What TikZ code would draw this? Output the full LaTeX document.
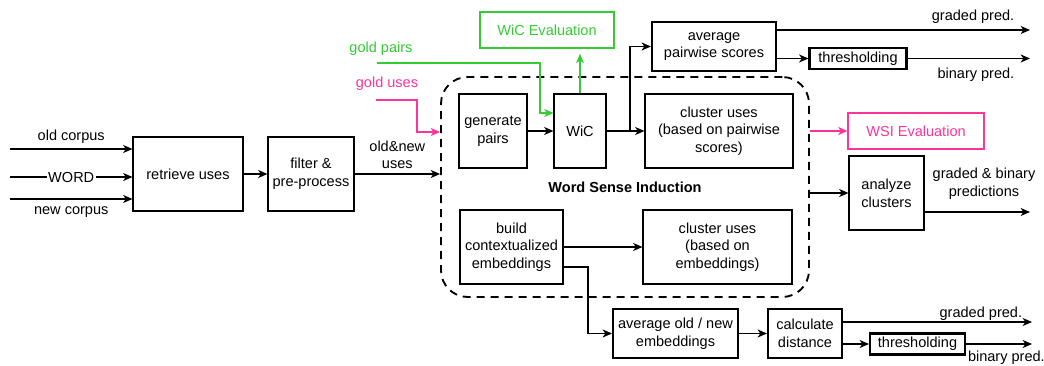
\documentclass[tikz,border=0pt]{standalone}
\usepackage{fontspec}
\setmainfont{Liberation Sans}
\usepackage{xcolor}
\usepackage{tikz}
\usetikzlibrary{arrows.meta, positioning, calc}
\definecolor{goldgreen}{HTML}{33CC33}
\definecolor{goldpink}{HTML}{FF3399}
\def\px{0.75pt}

\begin{document}
\begin{tikzpicture}[x=0.75pt, y=-0.75pt, font=\fontsize{10.9}{13.3}\selectfont,
    sz/.style 2 args={minimum width=#1*\px, minimum height=#2*\px},
    box/.style={draw, line width=0.8pt, align=center, inner sep=1pt},
    boldbox/.style={box, line width=1.6pt},
    greenbox/.style={box, draw=goldgreen, text=goldgreen},
    pinkbox/.style={box, draw=goldpink, text=goldpink},
    wsibox/.style={draw, line width=1.4pt, dash pattern=on 6pt off 4.5pt, rounded corners=20pt},
    arr/.style={-{Stealth[length=7pt, width=6pt, inset=2pt]}, line width=0.9pt},
    garr/.style={arr, goldgreen},
    parr/.style={arr, goldpink}]
    \useasboundingbox (0,0) rectangle (1044,366);

    % Word Sense Induction region
    \node[wsibox, sz={368}{220}] (wsi) at (625,187) {\textbf{Word Sense Induction}};

    % input and preprocessing
    \node[box, sz={110}{74}] (retrieve) at (188,174) {retrieve uses};
    \node[box, sz={86}{74}] (filter) at (311,174) {filter \&\\pre-process};
    \coordinate (oldin) at (10,149);
    \coordinate (wordin) at (10,177);
    \coordinate (newin) at (10,199);
    \draw[arr] (oldin) -- (oldin -| retrieve.west) node[midway, above] {old corpus};
    \draw[arr] (wordin) -- (wordin -| retrieve.west) node[midway, fill=white, inner sep=1pt] {WORD};
    \draw[arr] (newin) -- (newin -| retrieve.west) node[midway, below, yshift=-2pt] {new corpus};
    \draw[arr] (retrieve) -- (filter);
    \draw[arr] (filter) -- (filter -| wsi.west) node[midway, above, align=center] {old\&new\\uses};

    % gold data
    \node[text=goldpink] (guses) at (387,84) {gold uses};
    \node[text=goldgreen] (gpairs) at (381,49) {gold pairs};
    \coordinate (gustart) at (376,100);
    \coordinate (gubend) at (417,132);
    \coordinate (gpstart) at (377,63);
    \coordinate (gpbend) at (540,113);

    % pairwise branch
    \node[box, sz={68}{74}] (genpairs) at (493,131) {generate\\pairs};
    \node[box, sz={52}{74}] (wic) at (580,131) {WiC};
    \node[box, sz={148}{74}] (clpair) at (719,131) {cluster uses\\(based on pairwise\\scores)};
    \node[greenbox, sz={134}{36}] (wiceval) at (547,30) {WiC Evaluation};
    \node[boldbox, sz={124}{49}] (avgpair) at (714,46.5) {average\\pairwise scores};
    \node[boldbox, sz={97}{21}] (thrtop) at (858,58.5) {thresholding};
    \draw[parr] (gustart) -| (gubend) -- (gubend -| wsi.west);
    \draw[garr] (gpstart) -| (gpbend) -- (gpbend -| wic.west);
    \draw[arr] (genpairs) -- (wic);
    \draw[arr] (wic) -- (clpair);
    \coordinate (wicsplit) at (630,131);
    \draw[arr] (wicsplit) |- (avgpair.west);
    \draw[garr, shorten >=4pt] (wic.north) -- (wic.north |- wiceval.south);
    \coordinate (gradedtop) at (1030,30);
    \coordinate (binarytop) at (1030,58.5);
    \draw[arr] (avgpair.east |- gradedtop) -- (gradedtop) node[pos=1, above left, xshift=-8pt, yshift=1pt] {graded pred.};
    \draw[arr] (avgpair.east |- thrtop) -- (thrtop);
    \draw[arr] (thrtop) -- (binarytop) node[pos=1, below left, xshift=-8pt, yshift=-3pt] {binary pred.};

    % evaluation and cluster analysis
    \node[pinkbox, sz={136}{36}] (wsieval) at (916,131) {WSI Evaluation};
    \node[box, sz={75}{74}] (analyze) at (886.5,193) {analyze\\clusters};
    \node[align=center] (predlabel) at (984,184) {graded \& binary\\predictions};
    \coordinate (predright) at (1030,212);
    \draw[parr] (wsi.east |- wsieval) -- (wsieval);
    \draw[arr] (wsi.east |- analyze) -- (analyze);
    \draw[arr] (analyze.east |- predright) -- (predright);

    % embedding branch
    \node[box, sz={103}{74}] (embed) at (511.5,247) {build\\contextualized\\embeddings};
    \node[box, sz={149}{74}] (clemb) at (717.5,247) {cluster uses\\(based on\\embeddings)};
    \node[boldbox, sz={125}{49}] (avgemb) at (675.5,333.5) {average old / new\\embeddings};
    \node[boldbox, sz={74}{49}] (calc) at (805,333.5) {calculate\\distance};
    \node[boldbox, sz={95}{21}] (thrbot) at (917.5,344) {thresholding};
    \draw[arr] (embed) -- (clemb);
    \coordinate (embbend) at (588,267);
    \draw[arr] (embed.east |- embbend) -- (embbend) |- (avgemb.west);
    \draw[arr] (avgemb) -- (calc);
    \coordinate (gradedbot) at (1032,322);
    \coordinate (binarybot) at (1032,344);
    \draw[arr] (calc.east |- gradedbot) -- (gradedbot) node[pos=1, above left, inner sep=1pt, xshift=-6pt] {graded pred.};
    \draw[arr] (calc.east |- thrbot) -- (thrbot);
    \draw[arr] (thrbot) -- (binarybot) node[pos=1, below left, inner sep=1pt, xshift=11pt, yshift=-4pt] {binary pred.};
\end{tikzpicture}
\end{document}
